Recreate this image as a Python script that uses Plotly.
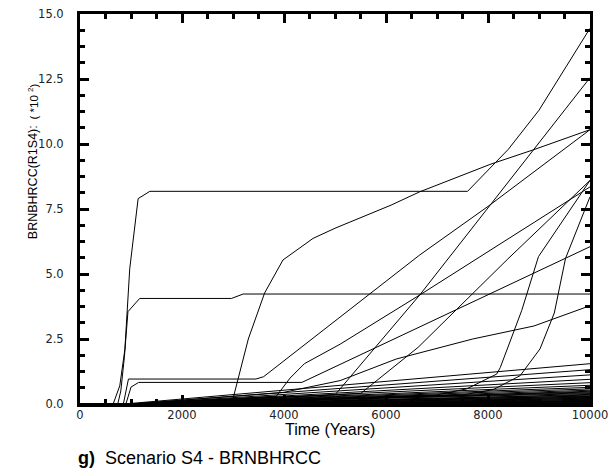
import plotly.graph_objects as go

# ---- main realizations (time in years, value in units of 10^2) ----
A_t = [0, 650, 780, 880, 975, 1140, 1370, 7600, 8400, 9000, 10000]
A_v = [0, 0, 0.7, 2.1, 5.2, 7.9, 8.18, 8.18, 9.8, 11.3, 14.45]

B_t = [0, 740, 800, 870, 940, 1170, 2970, 3200, 10000]
B_v = [0, 0, 0.5, 1.8, 3.55, 4.06, 4.06, 4.23, 4.23]

C_t = [0, 2940, 3000, 3300, 3620, 3980, 4570, 5000, 6100, 6660, 8060, 8880, 10000]
C_v = [0, 0, 0.2, 2.5, 4.27, 5.54, 6.37, 6.76, 7.65, 8.16, 9.23, 9.77, 10.55]

D_t = [0, 1000, 5000, 6660, 10000]
D_v = [0, 0, 0.35, 4.19, 12.55]

E_t = [0, 850, 950, 3450, 3600, 6660, 8000, 10000]
E_v = [0, 0, 0.96, 0.96, 1.05, 5.73, 7.6, 10.55]

F_t = [0, 1000, 3850, 4120, 4400, 5100, 6660, 9440, 10000]
F_v = [0, 0, 0.3, 1.0, 1.55, 2.3, 4.19, 7.65, 8.35]

G_t = [0, 900, 1000, 1150, 4350, 10000]
G_v = [0, 0, 0.65, 0.83, 0.83, 6.05]

J_t = [0, 1000, 4000, 5100, 6200, 7700, 8900, 10000]
J_v = [0, 0, 0.45, 0.9, 1.73, 2.5, 3.0, 3.78]

K_t = [0, 1000, 5500, 6630, 8390, 10000]
K_v = [0, 0, 0.4, 2.18, 5.58, 8.6]

H1_t = [0, 1000, 7000, 7580, 8170, 8240, 8660, 8990, 10000]
H1_v = [0, 0, 0.35, 0.58, 1.15, 1.4, 3.59, 5.67, 8.6]

H2_t = [0, 1000, 7500, 8100, 8630, 9020, 9300, 9520, 10000]
H2_v = [0, 0, 0.35, 0.55, 1.09, 2.12, 3.5, 5.6, 7.97]

# ---- low realizations: year they leave zero, value at 10000 years ----
low_start = [870, 1000, 1050, 1100, 1000, 1200, 1000,
             1000, 1500, 2000, 1000, 1000, 1000, 3000,
             1000, 2500, 1000, 4000, 1000, 5000, 1000, 6000, 1000, 7000,
             1000, 1000, 3500, 1000, 1000, 8000, 1000, 1000, 1000, 1000]
low_end = [1.55, 1.32, 1.12, 0.95, 0.82, 0.72, 0.64,
           0.58, 0.53, 0.49, 0.46, 0.43, 0.4, 0.37,
           0.34, 0.31, 0.29, 0.27, 0.25, 0.23, 0.21, 0.19, 0.17, 0.15,
           0.13, 0.11, 0.1, 0.08, 0.07, 0.05, 0.04, 0.03, 0.02, 0.01]
t_end = 10000

x_ticks = [0, 2000, 4000, 6000, 8000, 10000]
x_ticktext = ["0", "2000", "4000", "6000", "8000", "10000"]
y_ticks = [0, 2.5, 5.0, 7.5, 10.0, 12.5, 15.0]
y_ticktext = ["0.0", "2.5", "5.0", "7.5", "10.0", "12.5", "15.0"]

fig = go.Figure()
line_style = dict(color="black", width=1)

for s, e in zip(low_start, low_end):
    fig.add_trace(go.Scatter(x=[0, s, t_end], y=[0, 0, e], mode="lines",
                             line=line_style, showlegend=False, hoverinfo="skip"))

for tt, vv in [(A_t, A_v), (B_t, B_v), (C_t, C_v), (D_t, D_v), (E_t, E_v),
               (F_t, F_v), (G_t, G_v), (J_t, J_v), (K_t, K_v),
               (H1_t, H1_v), (H2_t, H2_v)]:
    fig.add_trace(go.Scatter(x=tt, y=vv, mode="lines", line=line_style,
                             showlegend=False, hoverinfo="skip"))

axis_common = dict(
    showline=True, linewidth=3, linecolor="black", mirror="allticks",
    ticks="inside", ticklen=9, tickwidth=2.5, tickcolor="black",
    showgrid=False, zeroline=False, automargin=False,
    tickfont=dict(family="DejaVu Sans, sans-serif", size=11.5, color="#222"),
)

fig.update_xaxes(range=[0, 10000], tickvals=x_ticks, ticktext=x_ticktext,
                 minor=dict(dtick=500, tick0=0, ticklen=5, tickwidth=2.5,
                            tickcolor="black", ticks="inside"),
                 ticklabelstandoff=-2, **axis_common)
fig.update_yaxes(range=[0, 15], tickvals=y_ticks, ticktext=y_ticktext,
                 minor=dict(dtick=0.625, tick0=0, ticklen=5, tickwidth=2.5,
                            tickcolor="black", ticks="inside"),
                 ticklabelstandoff=11, **axis_common)

font_main = "Liberation Sans, Arial, sans-serif"
fig.add_annotation(text="Time (Years)", xref="paper", yref="paper",
                   x=0.49, y=-0.065, showarrow=False, xanchor="center", yanchor="middle",
                   font=dict(family=font_main, size=16, color="black"))
fig.add_annotation(text="BRNBHRCC(R1S4):", xref="paper", yref="paper",
                   x=-0.092, y=0.569, textangle=-90, showarrow=False,
                   xanchor="center", yanchor="middle",
                   font=dict(family=font_main, size=12.5, color="black"))
fig.add_annotation(text="( *10 <sup>2</sup>)", xref="paper", yref="paper",
                   x=-0.092, y=0.776, textangle=-90, showarrow=False,
                   xanchor="center", yanchor="middle",
                   font=dict(family=font_main, size=11.5, color="black"))
fig.add_annotation(text="<b>g)</b>  Scenario S4 - BRNBHRCC", xref="paper", yref="paper",
                   x=-0.008, y=-0.138, showarrow=False, xanchor="left", yanchor="middle",
                   font=dict(family=font_main, size=18, color="black"))

fig.update_layout(width=610, height=476, margin=dict(l=80, r=20, t=14, b=72),
                  paper_bgcolor="white", plot_bgcolor="white")

# remove the default page margin so the figure fills the 610x476 window exactly
fig.write_html("out.html",
               config={"displayModeBar": False},
               post_script="document.body.style.margin='0';"
                           "document.body.style.overflow='hidden';")
